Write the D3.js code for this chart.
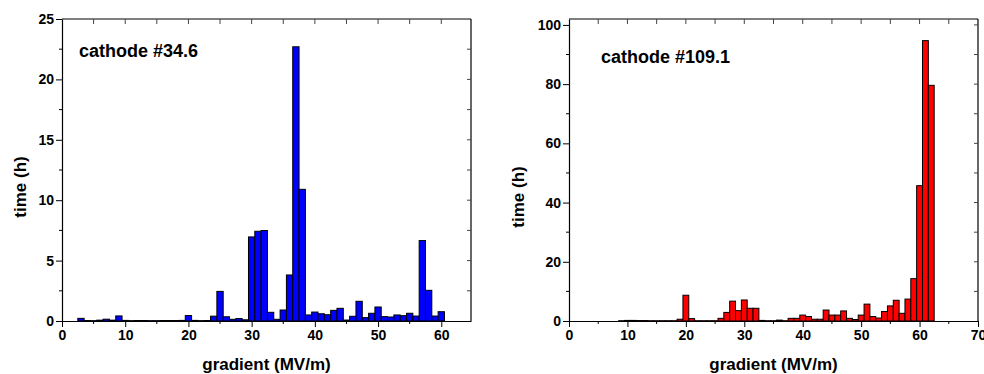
<!DOCTYPE html>
<html>
<head>
<meta charset="utf-8">
<script src="https://d3js.org/d3.v7.min.js"></script>
<style>
  body { margin:0; background:#fff; }
  text { font-family: "Liberation Sans", Arial, sans-serif; font-weight:bold; fill:#000; }
</style>
</head>
<body>
<svg id="chart" width="984" height="374"></svg>
<script>
// cathode #34.6 - hours spent per 1 MV/m gradient bin
const gradA = d3.range(0, 65);
const timeA = [0, 0, 0, 0.22, 0.04, 0.03, 0.07, 0.15, 0.07, 0.42,
  0.05, 0.03, 0.04, 0.04, 0.03, 0.03, 0.04, 0.04, 0.04, 0.05,
  0.45, 0.05, 0.03, 0.04, 0.4, 2.45, 0.35, 0.14, 0.2, 0.1,
  6.96, 7.43, 7.49, 0.72, 0.14, 0.91, 3.81, 22.7, 10.9, 0.5,
  0.74, 0.6, 0.52, 0.88, 1.05, 0.08, 0.39, 1.63, 0.28, 0.64,
  1.16, 0.36, 0.33, 0.5, 0.44, 0.64, 0.41, 6.66, 2.54, 0.41,
  0.77, 0, 0, 0, 0];

// cathode #109.1
const gradB = d3.range(0, 70);
const timeB = [0, 0, 0, 0, 0, 0, 0, 0, 0, 0.1,
  0.2, 0.2, 0.15, 0.15, 0.1, 0.1, 0.1, 0.1, 0.1, 0.6,
  8.7, 0.8, 0.1, 0.1, 0.1, 0.1, 0.9, 2.9, 6.7, 3.5,
  7.1, 4.3, 4.3, 0.2, 0.1, 0.1, 0.3, 0.1, 0.9, 0.9,
  2.0, 1.5, 0.6, 0.6, 3.7, 2.0, 2.0, 3.4, 0.9, 0.5,
  2.0, 5.7, 1.5, 1.0, 3.2, 5.1, 7.0, 2.6, 7.4, 14.3,
  45.7, 94.7, 79.6, 0, 0, 0, 0, 0, 0, 0];

const xTicksA = [0, 10, 20, 30, 40, 50, 60];
const yTicksA = [0, 5, 10, 15, 20, 25];
const xTicksB = [0, 10, 20, 30, 40, 50, 60, 70];
const yTicksB = [0, 20, 40, 60, 80, 100];

const svg = d3.select('#chart');

function panel(opt) {
  const x = d3.scaleLinear().domain(opt.xDomain).range([opt.left, opt.right]);
  const y = d3.scaleLinear().domain(opt.yDomain).range([opt.bottom, opt.top]);
  const g = svg.append('g');

  // bars, 1 MV/m wide and centred on the bin value
  g.selectAll('rect.bar')
    .data(opt.grad.map((d, i) => ({g: d, t: opt.time[i]})))
    .enter().append('rect')
    .attr('class', 'bar')
    .attr('x', d => x(d.g - 0.5))
    .attr('width', d => x(d.g + 0.5) - x(d.g - 0.5))
    .attr('y', d => y(d.t))
    .attr('height', d => y(0) - y(d.t))
    .attr('fill', opt.color)
    .attr('stroke', '#000')
    .attr('stroke-width', 1);

  const xMinor = d3.range(opt.xDomain[0], opt.xDomain[1] + 0.01, opt.xStep / 2);
  const yMinor = d3.range(0, opt.yDomain[1] + 0.01, opt.yStep / 2);

  // bottom axis, outward ticks
  const xAxis = d3.axisBottom(x).tickValues(opt.xTicks).tickSize(6).tickSizeOuter(0).tickPadding(3);
  const gx = g.append('g').attr('transform', `translate(0,${opt.bottom})`).call(xAxis);
  gx.selectAll('text').style('font-size', '14px').style('font-family', '"Liberation Sans", Arial, sans-serif').style('font-weight', 'bold');
  gx.append('g').selectAll('line').data(xMinor.filter(v => opt.xTicks.indexOf(v) < 0))
    .enter().append('line')
    .attr('x1', d => x(d)).attr('x2', d => x(d))
    .attr('y1', 0).attr('y2', 3).attr('stroke', '#000');

  // left axis
  const yAxis = d3.axisLeft(y).tickValues(opt.yTicks).tickSize(6).tickSizeOuter(0).tickPadding(2);
  const gy = g.append('g').attr('transform', `translate(${opt.left},0)`).call(yAxis);
  gy.selectAll('text').style('font-size', '14px').style('font-family', '"Liberation Sans", Arial, sans-serif').style('font-weight', 'bold');
  gy.append('g').selectAll('line').data(yMinor.filter(v => opt.yTicks.indexOf(v) < 0))
    .enter().append('line')
    .attr('y1', d => y(d)).attr('y2', d => y(d))
    .attr('x1', -3).attr('x2', 1).attr('stroke', '#000');
  g.selectAll('.domain').attr('stroke', '#000').attr('stroke-width', 1.2);

  // mirror frame with inward ticks
  g.append('line').attr('x1', opt.left).attr('x2', opt.right)
    .attr('y1', opt.top).attr('y2', opt.top).attr('stroke', '#000').attr('stroke-width', 1.2);
  g.append('line').attr('x1', opt.right).attr('x2', opt.right)
    .attr('y1', opt.top).attr('y2', opt.bottom).attr('stroke', '#000').attr('stroke-width', 1.2);
  g.selectAll('line.topTick').data(xMinor.filter(v => v > opt.xDomain[0] && x(v) < opt.right - 2))
    .enter().append('line').attr('class', 'topTick')
    .attr('x1', d => x(d)).attr('x2', d => x(d))
    .attr('y1', opt.top).attr('y2', opt.top + 5).attr('stroke', '#444');
  g.selectAll('line.rightTick').data(yMinor.filter(v => v > 0 && y(v) > opt.top + 2))
    .enter().append('line').attr('class', 'rightTick')
    .attr('y1', d => y(d)).attr('y2', d => y(d))
    .attr('x1', opt.right - 4).attr('x2', opt.right).attr('stroke', '#444');

  g.append('text').text(opt.label)
    .attr('x', opt.labelX).attr('y', opt.labelY)
    .style('font-size', '18px');

  g.append('text').text('gradient (MV/m)')
    .attr('x', (opt.left + opt.right) / 2).attr('y', 370)
    .attr('text-anchor', 'middle')
    .style('font-size', '17px');

  g.append('text').text('time (h)')
    .attr('transform', `translate(${opt.yTitleX},${opt.yTitleY}) rotate(-90)`)
    .attr('text-anchor', 'middle')
    .style('font-size', '17px');
}

panel({
  grad: gradA, time: timeA, color: '#0000ff',
  xDomain: [0, 64.7], yDomain: [0, 25], xStep: 10, yStep: 5,
  xTicks: xTicksA, yTicks: yTicksA,
  left: 62, right: 471, top: 19, bottom: 321,
  label: 'cathode #34.6', labelX: 79, labelY: 57,
  yTitleX: 26, yTitleY: 187
});

panel({
  grad: gradB, time: timeB, color: '#ff0000',
  xDomain: [0, 70], yDomain: [0, 102], xStep: 10, yStep: 20,
  xTicks: xTicksB, yTicks: yTicksB,
  left: 569, right: 978, top: 19, bottom: 321,
  label: 'cathode #109.1', labelX: 601, labelY: 63,
  yTitleX: 524, yTitleY: 197
});
</script>
</body>
</html>
